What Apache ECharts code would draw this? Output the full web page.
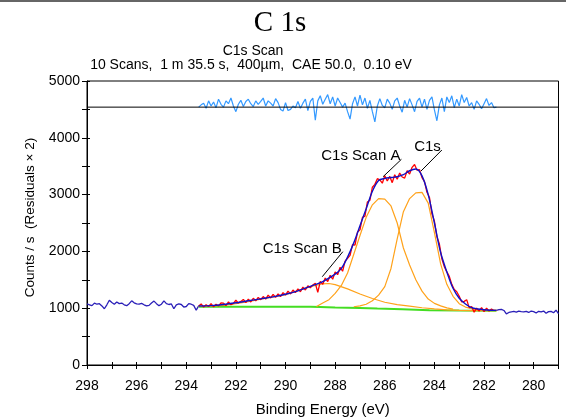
<!DOCTYPE html>
<html><head><meta charset="utf-8">
<script src="https://cdn.jsdelivr.net/npm/echarts@6/dist/echarts.min.js"></script>
<style>html,body{margin:0;padding:0;background:#fff}#c{width:566px;height:420px}</style>
</head><body><div id="c"></div>
<script>
// ---- text ----
const titleText = 'C 1s';
const subtitle1 = 'C1s Scan';
const subtitle2 = '10 Scans,  1 m 35.5 s,  400µm,  CAE 50.0,  0.10 eV';
const xName = 'Binding Energy (eV)';
const yName = 'Counts / s  (Residuals × 2)';

// ---- axes ----
const xMin = 279, xMax = 298, xInterval = 1;
const yMin = 0, yMax = 5000, yInterval = 500;

// ---- raw spectrum outside fit region (0.1 eV steps) ----
const rawLeftStart = 298.0, rawStep = 0.1;
const rawLeft = [1075,1060,1045,1090,1070,1080,1040,990,1060,1140,
  1100,1070,1110,1080,1090,1060,1045,1080,1130,1095,
  1075,1070,1085,1060,1040,1050,1090,1125,1080,1045,
  1070,1130,1080,1065,1075,990,1060,1075,1065,1020,
  1030,1080,1070,1050,965,1040];
const rawRightStart = 281.5;
const rawRight = [962,975,980,960,900,925,935,945,930,950,
  940,935,945,925,950,940,915,945,935,950,
  910,940,945,920,965,905];

// ---- raw spectrum inside fit region (red) ----
const rawFitStart = 293.5;
const rawFit = [1040,1075,1020,1060,1030,1080,1025,1070,1040,1095,
  1090,1045,1110,1060,1085,1140,1090,1120,1155,1100,
  1160,1110,1175,1130,1190,1150,1205,1160,1230,1180,
  1245,1190,1250,1205,1275,1230,1300,1250,1320,1275,
  1340,1290,1370,1320,1395,1360,1410,1440,1280,1470,
  1420,1530,1470,1580,1510,1640,1590,1720,1650,1830,
  1880,1930,2120,2110,2340,2380,2600,2620,2870,2900,
  3130,3180,3280,3260,3200,3330,3240,3320,3210,3350,
  3270,3380,3310,3290,3420,3360,3480,3530,3430,3440,
  3300,3230,3040,2950,2660,2530,2260,2130,1870,1730,
  1640,1560,1420,1330,1290,1210,1110,1120,1150,1010,
  1030,930,1000,950,1010,940,1000,950,985,960,
  962];

// ---- residuals (plotted values, ×2, offset) ----
const residualBase = 4540;
const residuals = [4540,4580,4610,4520,4650,4560,4630,4530,4680,4590,
  4540,4650,4600,4700,4560,4460,4590,4660,4550,4640,
  4680,4600,4550,4650,4590,4640,4700,4560,4650,4610,
  4560,4690,4620,4500,4470,4620,4480,4500,4560,4530,
  4640,4520,4610,4680,4480,4640,4700,4310,4650,4740,
  4590,4680,4760,4600,4720,4560,4700,4620,4540,4610,
  4460,4330,4600,4720,4560,4750,4580,4700,4520,4660,
  4460,4280,4560,4690,4570,4530,4680,4610,4500,4650,
  4700,4560,4450,4660,4540,4690,4580,4460,4640,4700,
  4540,4680,4500,4660,4720,4490,4300,4580,4700,4460,
  4720,4620,4740,4530,4680,4560,4760,4620,4710,4560,
  4620,4500,4650,4590,4510,4600,4690,4570,4620,4530,
  4540];

// ---- fit curves [eV, counts] ----
const envelope = [[293.5,1040],[293,1045],[292.5,1065],[292,1095],[291.5,1130],[291,1165],[290.5,1200],[290,1245],[289.5,1305],[289,1385],[288.5,1470],[288,1600],[287.75,1700],[287.5,1900],[287.25,2150],[287,2450],[286.75,2750],[286.5,3060],[286.25,3250],[286,3285],[285.75,3300],[285.5,3315],[285.25,3350],[285,3420],[284.75,3450],[284.5,3330],[284.25,3000],[284,2500],[283.75,1980],[283.5,1640],[283.25,1350],[283,1175],[282.75,1075],[282.5,1010],[282.25,985],[282,972],[281.75,965],[281.5,962]];
const background = [[293.5,1027],[289,1025],[288.6,1020],[288,1012],[287,1005],[286.3,995],[285.3,982],[284.2,965],[283,958],[281.5,955]];
const compB = [[293.5,1030],[293,1036],[292.5,1050],[292,1080],[291.5,1115],[291,1160],[290.5,1200],[290,1240],[289.5,1310],[289,1380],[288.5,1430],[288.25,1435],[288,1415],[287.5,1340],[287,1250],[286.5,1170],[286,1105],[285.5,1062],[285,1035],[284.5,1008],[284,988],[283.5,972],[283,962],[282.5,958],[282,956],[281.5,955]];
const compA = [[288.75,1030],[288.5,1090],[288.25,1150],[288,1260],[287.75,1400],[287.5,1620],[287.25,1950],[287,2280],[286.75,2600],[286.5,2820],[286.25,2930],[286,2920],[285.75,2800],[285.5,2500],[285.25,2060],[285,1760],[284.75,1500],[284.5,1300],[284.25,1160],[284,1085],[283.75,1040],[283.5,1005],[283.25,985]];
const compC = [[287.25,1025],[287,1040],[286.75,1070],[286.5,1130],[286.25,1230],[286,1380],[285.75,1700],[285.5,2220],[285.25,2700],[285,2930],[284.75,3030],[284.5,3040],[284.25,2850],[284,2330],[283.75,1780],[283.5,1420],[283.25,1210],[283,1080],[282.75,1020],[282.5,990],[282.25,972],[282,965],[281.75,960]];

// ---- annotations: label, pointer start, pointer end ----
const annoLabels = ['C1s Scan A', 'C1s', 'C1s Scan B'];
const annoFrom = [[286.07,3315],[284.54,3415],[288.52,1554]];
const annoTo = [[285.33,3621],[283.70,3785],[287.69,1995]];

// ---- build ----
function seq(start, step, vals){ return vals.map((v,i)=>[+(start - i*step).toFixed(2), v]); }
const FONT = '"Liberation Sans", Arial, sans-serif';
const chart = echarts.init(document.getElementById('c'), null, {renderer:'canvas'});

const xCommon = {type:'value', min:xMin, max:xMax, interval:xInterval, inverse:true, position:'bottom', offset:0, splitLine:{show:false}};
const yCommon = {type:'value', min:yMin, max:yMax, interval:yInterval, position:'left', offset:0, splitLine:{show:false}};
const lineBase = {type:'line', showSymbol:false, symbol:'none', silent:true, animation:false, z:2};

chart.setOption({
  animation:false,
  backgroundColor:'#fff',
  title:[
    {text:titleText, left:275, top:4, textAlign:'center', textStyle:{fontFamily:'"Liberation Serif", "Times New Roman", serif', fontSize:29, fontWeight:'normal', color:'#000'}},
    {text:subtitle1, left:248, top:39, textAlign:'center', textStyle:{fontFamily:FONT, fontSize:14, fontWeight:'normal', color:'#000'}},
    {text:subtitle2, left:246, top:53, textAlign:'center', textStyle:{fontFamily:FONT, fontSize:14, fontWeight:'normal', color:'#000'}}
  ],
  graphic:[{type:'rect', shape:{x:0,y:0,width:566,height:2}, style:{fill:'#666'}, silent:true}],
  grid:{left:87, right:7.5, top:81, bottom:55, containLabel:false, outerBoundsMode:'none',
    show:true, borderColor:'#000', borderWidth:1, backgroundColor:'transparent'},
  xAxis:[
    Object.assign({}, xCommon, {
      name:xName, nameLocation:'middle', nameGap:37,
      nameTextStyle:{fontFamily:FONT, fontSize:15, color:'#000'},
      axisLine:{show:true, lineStyle:{color:'#000', width:1}},
      axisTick:{show:true, inside:false, length:4, lineStyle:{color:'#000'}},
      axisLabel:{show:true, margin:14, fontFamily:FONT, fontSize:14, color:'#000',
        formatter:v => (Math.round(v) % 2 === 0 ? String(v) : '')}
    }),
    Object.assign({}, xCommon, {
      axisLine:{show:false}, axisLabel:{show:false},
      axisTick:{show:true, inside:true, length:3, lineStyle:{color:'#000'}}
    })
  ],
  yAxis:[
    Object.assign({}, yCommon, {
      name:yName, nameLocation:'middle', nameGap:50,
      nameTextStyle:{fontFamily:FONT, fontSize:13.5, color:'#000', padding:[0,0,0,11]},
      axisLine:{show:true, lineStyle:{color:'#000', width:1}},
      axisTick:{show:true, inside:false, length:5, lineStyle:{color:'#000'}},
      axisLabel:{show:true, margin:7, fontFamily:FONT, fontSize:14, color:'#000',
        formatter:v => (v % 1000 === 0 ? String(v) : '')}
    }),
    Object.assign({}, yCommon, {
      axisLine:{show:false}, axisLabel:{show:false},
      axisTick:{show:true, inside:true, length:3, lineStyle:{color:'#000'}}
    })
  ],
  series:[
    Object.assign({}, lineBase, {name:'raw-left', data:seq(rawLeftStart, rawStep, rawLeft), lineStyle:{color:'#2a1fb8', width:1.3}}),
    Object.assign({}, lineBase, {name:'raw-right', data:seq(rawRightStart, rawStep, rawRight), lineStyle:{color:'#2a1fb8', width:1.3}}),
    Object.assign({}, lineBase, {name:'background', data:background, lineStyle:{color:'#44dd22', width:2}}),
    Object.assign({}, lineBase, {name:'C1s Scan B', data:compB, lineStyle:{color:'#ffa21a', width:1.2}}),
    Object.assign({}, lineBase, {name:'C1s Scan A', data:compA, lineStyle:{color:'#ffa21a', width:1.2}}),
    Object.assign({}, lineBase, {name:'C1s', data:compC, lineStyle:{color:'#ffa21a', width:1.2}}),
    Object.assign({}, lineBase, {name:'raw', data:seq(rawFitStart, rawStep, rawFit), lineStyle:{color:'#ff0000', width:1.3}}),
    Object.assign({}, lineBase, {name:'envelope', data:envelope, smooth:0.3, lineStyle:{color:'#1010c8', width:1.4}, z:3,
      markLine:{silent:true, symbol:['none','none'], animation:false,
        lineStyle:{color:'#000', width:1, type:'solid'}, label:{show:false},
        data: annoFrom.map((f,i)=>[{coord:f},{coord:annoTo[i]}])},
      markPoint:{silent:true, animation:false, symbol:'circle', symbolSize:0,
        data: annoTo.map((t,i)=>({coord:t, value:annoLabels[i],
          label:{show:true, position:'left', distance:1, offset:[0,-3], formatter:annoLabels[i],
            fontFamily:FONT, fontSize:15, color:'#000'}}))}
    }),
    Object.assign({}, lineBase, {name:'residuals', data:seq(rawFitStart, rawStep, residuals), lineStyle:{color:'#3399ff', width:1.2}}),
    Object.assign({}, lineBase, {name:'residual zero', data:[[xMax, residualBase],[xMin, residualBase]], lineStyle:{color:'#000', width:1}, z:4})
  ]
});
</script></body></html>
